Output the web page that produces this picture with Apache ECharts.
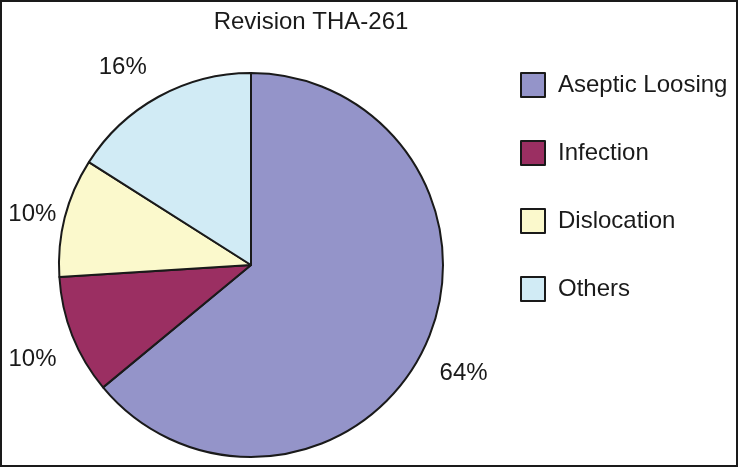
<!DOCTYPE html>
<html>
<head>
<meta charset="utf-8">
<script src="https://cdn.jsdelivr.net/npm/echarts@6/dist/echarts.min.js"></script>
<style>
html,body{margin:0;padding:0;background:#fff;}
#c{width:739px;height:468px;}
</style>
</head>
<body>
<div id="c"></div>
<script>
const titleText = 'Revision THA-261';
const categories = ['Aseptic Loosing', 'Infection', 'Dislocation', 'Others'];
const values = [64, 10, 10, 16];
const colors = ['#9494c9', '#9b2f62', '#fbf9cc', '#d1ebf5'];

const chart = echarts.init(document.getElementById('c'), null, {renderer: 'canvas'});
const font = 'Arial, "Liberation Sans", sans-serif';
const mainData = categories.map((n, i) => ({name: n, value: values[i], itemStyle: {color: colors[i]}}));
const ghostData = categories.map((n, i) => ({name: n, value: values[i]}));
// small horizontal nudges so labels sit where the original placed them
const labelNudge = {2: 9, 3: -15};

chart.setOption({
  animation: false,
  backgroundColor: '#fff',
  title: {
    text: titleText,
    left: 311,
    textAlign: 'center',
    top: 10,
    padding: 0,
    textStyle: {fontFamily: font, fontSize: 24, fontWeight: 'normal', color: '#1a1a1a'}
  },
  legend: {
    orient: 'vertical',
    left: 520,
    top: 72,
    padding: 0,
    itemWidth: 24,
    itemHeight: 24,
    itemGap: 42,
    icon: 'rect',
    selectedMode: false,
    data: categories,
    itemStyle: {borderColor: '#1a1a1a', borderWidth: 2},
    textStyle: {fontFamily: font, fontSize: 24, lineHeight: 24, color: '#1a1a1a', padding: [0, 0, 0, 8]}
  },
  graphic: [{
    type: 'rect',
    shape: {x: 1, y: 1, width: 736, height: 465},
    style: {fill: 'none', stroke: '#1a1a1a', lineWidth: 2},
    silent: true
  }],
  series: [
    {
      type: 'pie',
      center: [251, 265],
      radius: 192,
      startAngle: 90,
      clockwise: true,
      silent: true,
      label: {show: false},
      labelLine: {show: false},
      itemStyle: {borderColor: '#1a1a1a', borderWidth: 2},
      data: mainData
    },
    {
      type: 'pie',
      center: [251, 273],
      radius: [222, 242],
      startAngle: 90,
      clockwise: true,
      silent: true,
      legendHoverLink: false,
      itemStyle: {color: 'rgba(0,0,0,0)', borderWidth: 0},
      label: {
        show: true,
        position: 'inside',
        formatter: '{d}%',
        fontFamily: font,
        fontSize: 24,
        color: '#1a1a1a'
      },
      labelLine: {show: false},
      labelLayout: function (p) {
        return {dx: labelNudge[p.dataIndex] || 0};
      },
      data: ghostData
    }
  ]
});
</script>
</body>
</html>
